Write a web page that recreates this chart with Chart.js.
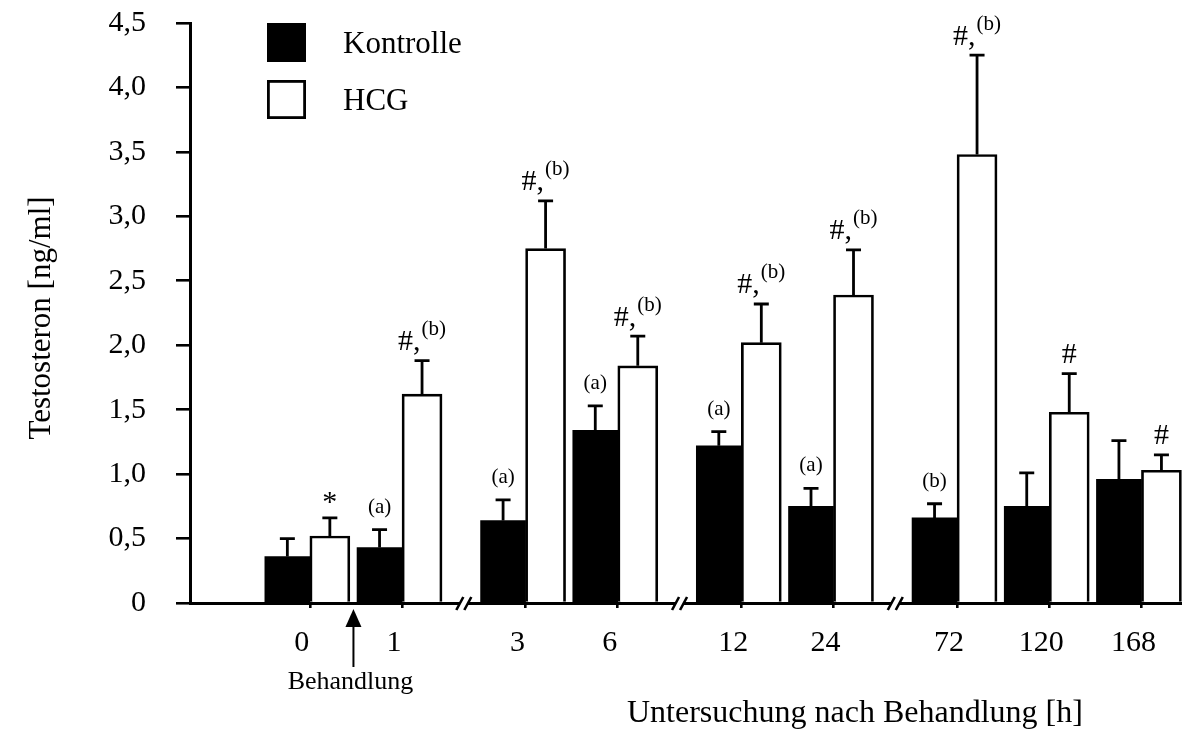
<!DOCTYPE html>
<html>
<head>
<meta charset="utf-8">
<script src="https://cdn.jsdelivr.net/npm/chart.js@4/dist/chart.umd.min.js"></script>
<style>
  html, body { margin: 0; padding: 0; background: #fff; }
  #wrap { width: 1182px; height: 729px; }
</style>
</head>
<body>
<div id="wrap"><canvas id="c" width="1182" height="729"></canvas></div>
<script>
// Testosteron-Konzentration nach Behandlung (Mittelwert + SEM)
const HOURS = ['0', '1', '3', '6', '12', '24', '72', '120', '168'];
const BREAK_AFTER = ['1', '6', '24'];          // Achsenunterbrechung nach diesen Zeitpunkten
const KONTROLLE = [0.36, 0.43, 0.64, 1.34, 1.22, 0.75, 0.66, 0.75, 0.96];
const KONTROLLE_SEM = [0.14, 0.14, 0.16, 0.19, 0.11, 0.14, 0.11, 0.26, 0.30];
const HCG = [0.52, 1.62, 2.75, 1.84, 2.02, 2.39, 3.48, 1.48, 1.03];
const HCG_SEM = [0.14, 0.26, 0.37, 0.23, 0.30, 0.35, 0.77, 0.30, 0.12];
const KONTROLLE_MARKS = ['', '(a)', '(a)', '(a)', '(a)', '(a)', '(b)', '', ''];
const HCG_MARKS = ['*', '#,(b)', '#,(b)', '#,(b)', '#,(b)', '#,(b)', '#,(b)', '#', '#'];
const Y_TICKS = [0, 0.5, 1, 1.5, 2, 2.5, 3, 3.5, 4, 4.5];
const Y_TICK_LABELS = ['0', '0,5', '1,0', '1,5', '2,0', '2,5', '3,0', '3,5', '4,0', '4,5'];
const SERIES = ['Kontrolle', 'HCG'];
const X_TITLE = 'Untersuchung nach Behandlung [h]';
const Y_TITLE = 'Testosteron [ng/ml]';
const TREATMENT = 'Behandlung';

const FONT = "'Liberation Serif', 'Times New Roman', serif";
const INK = '#000';

// Position of each time point on the x axis; a break adds a little extra space
const BREAK_GAP = 0.34;
const slots = [];
(function () {
  let s = 0;
  HOURS.forEach(h => {
    slots.push(s);
    s += 1 + (BREAK_AFTER.includes(h) ? BREAK_GAP : 0);
  });
})();
const breakSlots = BREAK_AFTER.map(h => {
  const i = HOURS.indexOf(h);
  return (slots[i] + slots[i + 1]) / 2;
});

const toPoints = vals => vals.map((v, i) => ({ x: slots[i], y: v }));

function splitMark(mark) {
  const m = mark.match(/^([^(]*)(\([a-z]\))?$/);
  return { main: m ? m[1] : mark, sup: m && m[2] ? m[2] : '' };
}

function inkMid(ctx, text) {
  const m = ctx.measureText(text);
  return (m.actualBoundingBoxAscent - m.actualBoundingBoxDescent) / 2;
}

const decorations = {
  id: 'decorations',
  afterDatasetsDraw(chart) {
    const { ctx, chartArea: area, scales: { x, y } } = chart;
    ctx.save();
    ctx.fillStyle = INK;
    ctx.strokeStyle = INK;

    // upper error bars and significance marks
    chart.data.datasets.forEach((ds, di) => {
      const meta = chart.getDatasetMeta(di);
      meta.data.forEach((bar, i) => {
        const val = ds.data[i].y;
        const capY = y.getPixelForValue(val + ds.sem[i]);
        const topY = y.getPixelForValue(val);
        ctx.lineWidth = 2.8;
        ctx.beginPath();
        ctx.moveTo(bar.x, topY);
        ctx.lineTo(bar.x, capY);
        ctx.moveTo(bar.x - 7.5, capY);
        ctx.lineTo(bar.x + 7.5, capY);
        ctx.stroke();

        const mark = ds.marks[i];
        if (!mark) return;
        const { main, sup } = splitMark(mark);
        ctx.textAlign = 'left';
        ctx.textBaseline = 'alphabetic';
        if (main) {
          ctx.font = '30px ' + FONT;
          const core = main.replace(',', '');
          const base = capY - 20 + inkMid(ctx, core);
          const wMain = ctx.measureText(main).width;
          ctx.font = '21px ' + FONT;
          const wSup = sup ? ctx.measureText(sup).width + 1 : 0;
          const start = bar.x - (wMain + wSup) / 2;
          ctx.font = '30px ' + FONT;
          ctx.fillText(main, start, base);
          if (sup) {
            ctx.font = '21px ' + FONT;
            ctx.fillText(sup, start + wMain + 1, base - 15);
          }
        } else {
          ctx.font = '21px ' + FONT;
          const base = capY - 22 + inkMid(ctx, sup);
          ctx.textAlign = 'center';
          ctx.fillText(sup, bar.x, base);
        }
      });
    });

    // axis breaks
    const by = area.bottom;
    breakSlots.forEach(s => {
      const bx = x.getPixelForValue(s);
      ctx.fillStyle = '#fff';
      ctx.beginPath();
      ctx.moveTo(bx - 7.5, by + 7);
      ctx.lineTo(bx - 0.5, by - 6);
      ctx.lineTo(bx + 7.5, by - 6);
      ctx.lineTo(bx + 0.5, by + 7);
      ctx.closePath();
      ctx.fill();
      ctx.strokeStyle = INK;
      ctx.lineWidth = 2.6;
      ctx.beginPath();
      ctx.moveTo(bx - 7.5, by + 7);
      ctx.lineTo(bx - 0.5, by - 6);
      ctx.moveTo(bx + 0.5, by + 7);
      ctx.lineTo(bx + 7.5, by - 6);
      ctx.stroke();
    });
    ctx.fillStyle = INK;

    // treatment arrow between 0 h and 1 h
    const hcgBars = chart.getDatasetMeta(1).data;
    const ctlBars = chart.getDatasetMeta(0).data;
    const ax = ((hcgBars[0].x + hcgBars[0].width / 2) + (ctlBars[1].x - ctlBars[1].width / 2)) / 2;
    const tipY = area.bottom + 6;
    ctx.lineWidth = 2;
    ctx.beginPath();
    ctx.moveTo(ax, tipY + 16);
    ctx.lineTo(ax, tipY + 58);
    ctx.stroke();
    ctx.beginPath();
    ctx.moveTo(ax, tipY);
    ctx.lineTo(ax - 8, tipY + 18);
    ctx.lineTo(ax + 8, tipY + 18);
    ctx.closePath();
    ctx.fill();
    ctx.font = '26px ' + FONT;
    ctx.textAlign = 'center';
    ctx.textBaseline = 'alphabetic';
    ctx.fillText(TREATMENT, ax - 3, tipY + 80);

    // legend
    const lx = area.left + 77;
    chart.data.datasets.forEach((ds, di) => {
      const top = area.top + di * 57;
      ctx.fillStyle = ds.backgroundColor;
      ctx.fillRect(lx, top, 39, 39);
      if (ds.borderWidth > 0) {
        ctx.lineWidth = 2.8;
        ctx.strokeStyle = ds.borderColor;
        ctx.strokeRect(lx + 1.4, top + 1.4, 36.2, 36.2);
      }
      ctx.fillStyle = INK;
      ctx.font = '31px ' + FONT;
      ctx.textAlign = 'left';
      ctx.fillText(ds.label, lx + 76, top + 19.5 + 10.5);
    });

    // axis titles
    ctx.font = '32px ' + FONT;
    ctx.textAlign = 'left';
    ctx.fillText(X_TITLE, area.left + 437, 722);
    ctx.font = '31px ' + FONT;
    ctx.save();
    ctx.translate(50, 318);
    ctx.rotate(-Math.PI / 2);
    ctx.textAlign = 'center';
    ctx.fillText(Y_TITLE, 0, 0);
    ctx.restore();

    ctx.restore();
  }
};

new Chart(document.getElementById('c'), {
  type: 'bar',
  data: {
    datasets: [
      {
        label: SERIES[0],
        data: toPoints(KONTROLLE),
        sem: KONTROLLE_SEM,
        marks: KONTROLLE_MARKS,
        backgroundColor: '#000',
        borderColor: '#000',
        borderWidth: 0,
        barThickness: 45
      },
      {
        label: SERIES[1],
        data: toPoints(HCG),
        sem: HCG_SEM,
        marks: HCG_MARKS,
        backgroundColor: '#fff',
        borderColor: '#000',
        borderWidth: 2.7,
        barThickness: 40
      }
    ]
  },
  options: {
    responsive: false,
    animation: false,
    devicePixelRatio: 1,
    layout: { padding: { top: 23, left: 0, right: 0, bottom: 0 } },
    plugins: { legend: { display: false }, tooltip: { enabled: false } },
    scales: {
      x: {
        type: 'linear',
        offset: false,
        min: -1.30,
        max: 9.46,
        bounds: 'data',
        afterBuildTicks: s => { s.ticks = slots.map(v => ({ value: v })); },
        afterFit: s => { s.height = 126; s.paddingLeft = 0; s.paddingRight = 0; },
        ticks: {
          callback: (v, i) => HOURS[i],
          autoSkip: false,
          maxRotation: 0,
          padding: 17,
          labelOffset: -8,
          color: INK,
          font: { family: FONT, size: 30 }
        },
        grid: { offset: false, drawOnChartArea: false, tickLength: 5, color: INK, lineWidth: 2.6 },
        border: { color: INK, width: 3 }
      },
      y: {
        min: 0,
        max: 4.5,
        afterBuildTicks: s => { s.ticks = Y_TICKS.map(v => ({ value: v })); },
        afterFit: s => { s.width = 190; s.paddingTop = 0; s.paddingBottom = 0; },
        ticks: {
          callback: (v, i) => Y_TICK_LABELS[i],
          padding: 30,
          color: INK,
          font: { family: FONT, size: 30 }
        },
        grid: { drawOnChartArea: false, tickLength: 14, color: INK, lineWidth: 2.6 },
        border: { color: INK, width: 3 }
      }
    }
  },
  plugins: [decorations]
});
</script>
</body>
</html>
